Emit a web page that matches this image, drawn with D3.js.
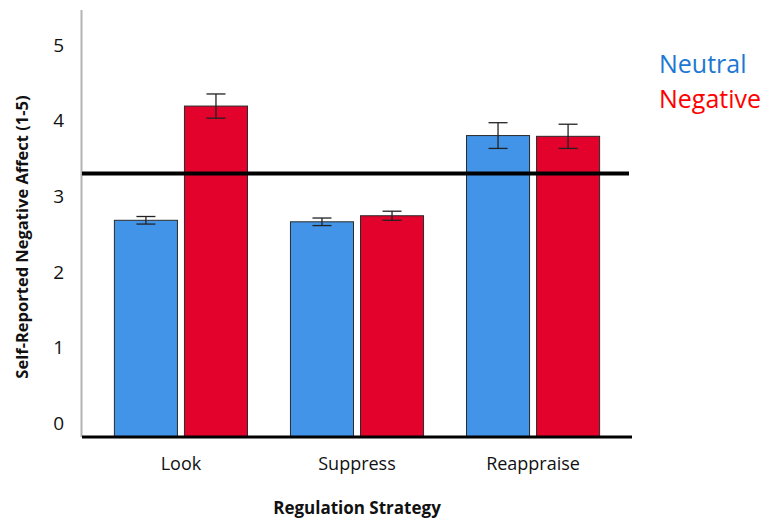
<!DOCTYPE html>
<html>
<head>
<meta charset="utf-8">
<script src="https://cdn.jsdelivr.net/npm/d3@7"></script>
<style>
  html, body { margin: 0; padding: 0; background: #fff; }
  svg { display: block; font-family: "Open Sans", sans-serif; }
</style>
</head>
<body>
<svg id="chart" width="766" height="518"></svg>
<script>
// ---- data ----
const categories = ["Look", "Suppress", "Reappraise"];
const seriesNames = ["Neutral", "Negative"];
const neutralValues = [2.68, 2.66, 3.80];
const negativeValues = [4.19, 2.74, 3.79];
const neutralErrors = [0.05, 0.05, 0.17];
const negativeErrors = [0.16, 0.06, 0.16];
const referenceValue = 3.30;
const yTicks = [0, 1, 2, 3, 4, 5];
const xAxisTitle = "Regulation Strategy";
const yAxisTitle = "Self-Reported Negative Affect (1-5)";

const rows = categories.map((c, i) => ({
  category: c,
  bars: [
    { series: "Neutral", value: neutralValues[i], err: neutralErrors[i] },
    { series: "Negative", value: negativeValues[i], err: negativeErrors[i] }
  ]
}));

// ---- layout ----
const svg = d3.select("#chart");
const plotLeft = 82, plotRight = 632, plotTop = 10, plotBottom = 437;
const color = d3.scaleOrdinal().domain(seriesNames).range(["#4194E7", "#E3022C"]);
const legendColor = d3.scaleOrdinal().domain(seriesNames).range(["#1E78D2", "#FF0000"]);

const y = d3.scaleLinear().domain([-0.185, 5.46]).range([plotBottom, plotTop]);
const x0 = d3.scaleBand().domain(categories).range([plotLeft, plotRight])
  .paddingInner(0.244).paddingOuter(0.184);
const x1 = d3.scaleBand().domain(seriesNames).range([0, x0.bandwidth()]).paddingInner(0.1);

// y axis line (gray)
svg.append("line")
  .attr("x1", plotLeft - 0.5).attr("x2", plotLeft - 0.5)
  .attr("y1", plotTop).attr("y2", plotBottom)
  .attr("stroke", "#b4b4b4").attr("stroke-width", 2);

// y tick labels
svg.append("g").selectAll("text").data(yTicks).join("text")
  .attr("x", 64).attr("y", d => y(d))
  .attr("text-anchor", "end").attr("dominant-baseline", "central")
  .attr("font-size", 19).attr("fill", "#111")
  .text(d => d);

// bars
const groups = svg.append("g").selectAll("g").data(rows).join("g")
  .attr("transform", d => `translate(${x0(d.category)},0)`);

groups.selectAll("rect").data(d => d.bars).join("rect")
  .attr("x", d => x1(d.series))
  .attr("y", d => y(d.value))
  .attr("width", x1.bandwidth())
  .attr("height", d => y.range()[0] - y(d.value))
  .attr("fill", d => color(d.series))
  .attr("stroke", "#2a2a2a").attr("stroke-width", 1);

// error bars
const capW = 19;
const eb = groups.selectAll("g.eb").data(d => d.bars).join("g").attr("class", "eb")
  .attr("stroke", "#222").attr("stroke-width", 1.3);
eb.append("line")
  .attr("x1", d => x1(d.series) + x1.bandwidth() / 2)
  .attr("x2", d => x1(d.series) + x1.bandwidth() / 2)
  .attr("y1", d => y(d.value + d.err)).attr("y2", d => y(d.value - d.err));
eb.append("line")
  .attr("x1", d => x1(d.series) + x1.bandwidth() / 2 - capW / 2)
  .attr("x2", d => x1(d.series) + x1.bandwidth() / 2 + capW / 2)
  .attr("y1", d => y(d.value + d.err)).attr("y2", d => y(d.value + d.err));
eb.append("line")
  .attr("x1", d => x1(d.series) + x1.bandwidth() / 2 - capW / 2)
  .attr("x2", d => x1(d.series) + x1.bandwidth() / 2 + capW / 2)
  .attr("y1", d => y(d.value - d.err)).attr("y2", d => y(d.value - d.err));

// reference line
svg.append("line")
  .attr("x1", plotLeft).attr("x2", plotRight - 3)
  .attr("y1", y(referenceValue)).attr("y2", y(referenceValue))
  .attr("stroke", "#000").attr("stroke-width", 4);

// baseline
svg.append("line")
  .attr("x1", plotLeft).attr("x2", plotRight)
  .attr("y1", plotBottom).attr("y2", plotBottom)
  .attr("stroke", "#000").attr("stroke-width", 3);

// x category labels
svg.append("g").selectAll("text").data(categories).join("text")
  .attr("x", d => x0(d) + x0.bandwidth() / 2)
  .attr("y", 470)
  .attr("text-anchor", "middle")
  .attr("font-size", 18).attr("fill", "#111")
  .text(d => d);

// x axis title
svg.append("text")
  .attr("x", (plotLeft + plotRight) / 2).attr("y", 514)
  .attr("text-anchor", "middle")
  .attr("font-size", 17).attr("font-weight", "bold").attr("fill", "#111")
  .text(xAxisTitle);

// y axis title
svg.append("text")
  .attr("transform", "translate(28,237) rotate(-90)")
  .attr("text-anchor", "middle")
  .attr("font-size", 16.5).attr("font-weight", "bold").attr("fill", "#111")
  .text(yAxisTitle);

// legend
svg.append("g").selectAll("text").data(seriesNames).join("text")
  .attr("x", 659)
  .attr("y", (d, i) => 73 + i * 35)
  .attr("font-size", 25)
  .attr("fill", d => legendColor(d))
  .text(d => d);
</script>
</body>
</html>
